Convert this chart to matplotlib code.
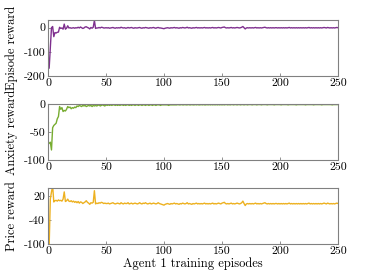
import matplotlib
matplotlib.use("Agg")
import matplotlib.pyplot as plt
import numpy as np

plt.rcParams['font.family'] = 'serif'
plt.rcParams['font.serif'] = ['cmr10']
plt.rcParams['axes.unicode_minus'] = False
plt.rcParams['axes.formatter.use_mathtext'] = False

episode_reward = [
    -167, -80, 0, 5, -37, -20, -22, -19, -18, 2,
    -3, -1, -6, 15, -6, -2, 8, -1, 0, -2,
    -1, 0, -2, 0, -1, 2, -1, 3, 0, -3,
    -1, 3, 4, 1, -1, -5, 1, -2, 2, 30,
    -3, -1, -1, 1, -1, 2, 1, -1, -1, 0,
    -1, 0, -2, -1, 0, 1, -1, -2, 0, -1,
    0, -1, 2, 0, -1, 0, -2, -1, 1, -1,
    0, 1, -1, -2, 0, -1, -1, 0, 1, -1,
    -2, 0, -1, 1, 0, -1, -2, 0, -1, 0,
    1, -1, -2, 0, 1, -1, -1, -2, -3, -4,
    -2, -1, 0, -1, -2, 0, -1, 0, 1, -1,
    0, -1, -2, 0, -1, 1, 0, -1, 0, 2,
    -1, 0, -1, -2, 0, -1, 0, 1, -1, 0,
    -1, 0, -1, 0, 1, -1, 0, -1, 0, -1,
    0, 1, -1, 0, -1, 0, 1, 0, -1, 1,
    2, 3, 0, -1, 0, -1, 0, 1, -1, 0,
    -1, 0, 1, 0, -1, 0, 2, 5, 0, -5,
    -1, 0, -1, 0, -1, 0, -1, 0, 1, -1,
    0, -1, 0, -1, 0, 1, 2, 0, -1, 0,
    -1, 0, -1, 0, -1, 0, 0, -1, 0, -1,
    0, -1, 0, -1, 0, -1, 0, 1, -1, 0,
    -1, 0, -1, 0, -1, 0, -1, 0, -1, 0,
    -1, 0, -1, 0, 1, -1, 0, -1, 0, -1,
    0, -1, 0, -1, 0, -1, 0, 1, 0, -1,
    1, 0, -1, 0, -1, 0, -1, 0, 1, 0,
]

anxiety_reward = [
    -70, -68, -82, -42, -38, -36, -34, -26, -22, -4,
    -9, -6, -13, -11, -12, -9, -4, -6, -5, -8,
    -6, -7, -5, -6, -3, -4, -2, -3, -4, -2,
    -3, -2, -4, -3, -2, -3, -2, -4, -2, -3,
    -2, -3, -2, -1, -3, -2, -1, -2, -3, -1,
    -2, -1, -2, -1, -2, -1, -1, -2, -1, -2,
    -1, -2, -1, -1, -2, -1, -2, -1, -1, -2,
    -1, -2, -1, -1, -2, -1, -1, -2, -1, -1,
    -2, -1, -1, -2, -1, -1, -2, -1, -1, -2,
    -1, -1, -2, -1, -1, -1, -2, -1, -1, -1,
    -1, -1, -1, -2, -1, -1, -1, -1, -1, -1,
    -1, -0.5, -1, -1, -0.5, -1, -1, -0.5, -1, -1,
    -0.5, -1, -1, -0.5, -1, -1, -0.5, -1, -0.5, -1,
    -1, -0.5, -1, -0.5, -1, -1, -0.5, -1, -0.5, -1,
    -0.5, -1, -0.5, -1, -0.5, -1, -0.5, -1, -0.5, -1,
    -0.5, -1, -0.5, -0.5, -1, -0.5, -1, -0.5, -0.5, -1,
    -0.5, -0.5, -1, -0.5, -0.5, -1, -0.5, -0.5, -1, -0.5,
    -0.5, -1, -0.5, -0.5, -0.5, -1, -0.5, -0.5, -0.5, -1,
    -0.5, -0.5, -0.5, -1, -0.5, -0.5, -0.5, -0.5, -1, -0.5,
    -0.5, -0.5, -0.5, -0.5, -1, -0.5, -0.5, -0.5, -0.5, -0.5,
    -1, -0.5, -0.5, -0.5, -0.5, -0.5, -1, -0.5, -0.5, -0.5,
    -0.5, -0.5, -0.5, -1, -0.5, -0.5, -0.5, -0.5, -0.5, -0.5,
    -0.5, -1, -0.5, -0.5, -0.5, -0.5, -0.5, -0.5, -1, -0.5,
    -0.5, -0.5, -0.5, -0.5, -0.5, -1, -0.5, -0.5, -0.5, -0.5,
    -0.5, -0.5, -0.5, -0.5, -1, -0.5, -0.5, -0.5, -0.5, -0.5,
]

price_reward = [
    -105, 12, 30, 45, 5, 8, 9, 7, 10, 8,
    9, 7, 12, 30, 6, 8, 12, 7, 6, 8,
    5, 7, 4, 6, 3, 6, 2, 5, 4, 1,
    3, 5, 8, 4, 2, -1, 3, 2, 4, 33,
    0, 2, 1, 3, 2, 4, 3, 1, 2, 1,
    1, 2, 0, 1, 2, 3, 1, 0, 1, 2,
    1, 0, 3, 1, 0, 2, 1, 1, 3, 0,
    1, 2, 0, 1, 2, 1, 0, 1, 3, 1,
    0, 2, 1, 3, 1, 0, 1, 2, 0, 1,
    2, 1, 0, 1, 3, 1, 0, -1, -2, -3,
    -1, 0, 1, 0, -1, 1, 0, 1, 2, 0,
    1, 0, -1, 1, 0, 2, 1, 0, 1, 3,
    0, 1, 0, -1, 1, 0, 1, 2, 0, 1,
    0, 1, 0, 1, 2, 0, 1, 0, 1, 0,
    1, 2, 0, 1, 0, 1, 2, 1, 0, 2,
    3, 4, 1, 0, 1, 0, 1, 2, 0, 1,
    0, 1, 2, 1, 0, 1, 3, 7, 1, -4,
    0, 1, 0, 1, 0, 1, 0, 1, 2, 0,
    1, 0, 1, 0, 1, 2, 3, 1, 0, 1,
    0, 1, 0, 1, 0, 1, 1, 0, 1, 0,
    1, 0, 1, 0, 1, 0, 1, 2, 0, 1,
    0, 1, 0, 1, 0, 1, 0, 1, 0, 1,
    0, 1, 0, 1, 2, 0, 1, 0, 1, 0,
    1, 0, 1, 0, 1, 0, 1, 2, 1, 0,
    2, 1, 0, 1, 0, 1, 0, 1, 2, 1,
]

episodes = np.arange(1, len(episode_reward) + 1)

series = [episode_reward, anxiety_reward, price_reward]
labels = ['Episode reward', 'Anxiety reward', 'Price reward']
colors = ['#7E2F8E', '#77AC30', '#EDB120']
ylims = [(-200, 32), (-100, 0), (-100, 39)]
yticks = [[-200, -100, 0], [-100, -50, 0], [-100, -40, 20]]
xticks = [0, 50, 100, 150, 200, 250]

fig = plt.figure(figsize=(3.74, 2.8), dpi=100)
W, H = 374.0, 280.0
boxes = [(20, 76), (104.3, 160), (188.3, 244)]
left, right = 48, 338
fs = 8.5
for i, (top, bot) in enumerate(boxes):
    ax = fig.add_axes([left / W, 1 - bot / H, (right - left) / W, (bot - top) / H])
    ax.plot(episodes, series[i], color=colors[i], lw=1.0)
    ax.set_xlim(0, 250)
    ax.set_ylim(*ylims[i])
    ax.set_yticks(yticks[i])
    ax.set_xticks(xticks)
    ax.tick_params(direction='in', length=2, width=0.6, color='#808080',
                   labelsize=fs, pad=2)
    for s in ax.spines.values():
        s.set_color('#808080')
        s.set_linewidth(0.8)
    ax.set_ylabel(labels[i], fontsize=fs + 0.5)
    ax.yaxis.set_label_coords(-0.105, 0.5)
    if i == 2:
        ax.set_xlabel('Agent 1 training episodes', fontsize=fs + 0.5, labelpad=1)

fig.savefig('out.png', dpi=100)
